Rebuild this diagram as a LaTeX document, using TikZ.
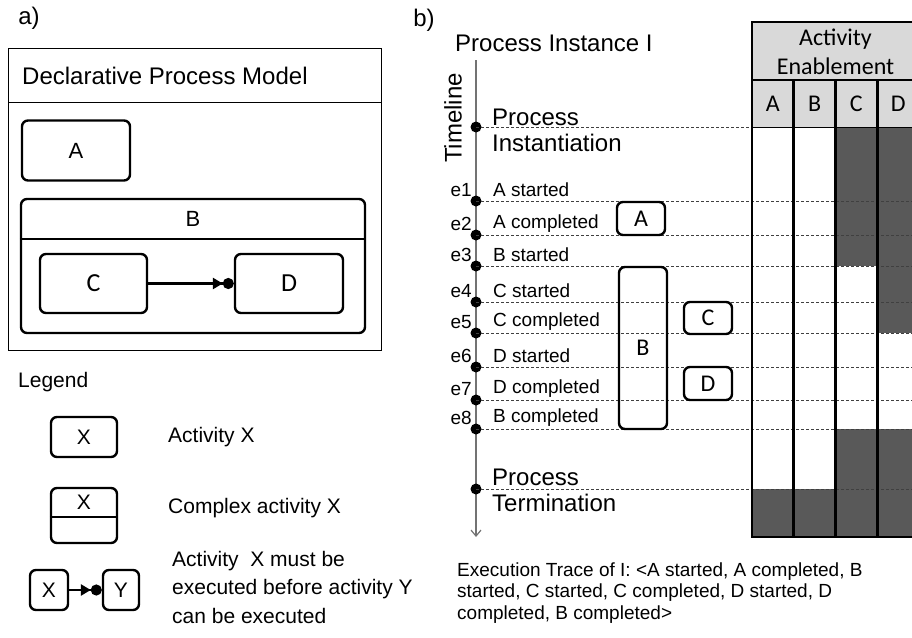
\documentclass[tikz,border=0pt]{standalone}
\usepackage{fontspec}
\setmainfont{Liberation Sans}
\newfontfamily\calibri{Carlito}
\usetikzlibrary{arrows.meta,positioning}
\definecolor{cellgray}{HTML}{D9D9D9}
\definecolor{celldark}{HTML}{595959}
\tikzset{
  act/.style={draw, line width=2.4pt, rounded corners=6pt, inner sep=0pt},
  big/.style={font=\fontsize{24}{26}\selectfont},
  mid/.style={font=\fontsize{21}{28.5}\selectfont},
  small/.style={font=\fontsize{19}{21.5}\selectfont},
  cal/.style={font=\calibri\fontsize{24}{28}\selectfont},
  txt/.style={inner sep=0pt, anchor=west},
  prec/.style={line width=2.6pt, -{Triangle[length=10pt,width=11pt]Circle[length=11pt]}},
  evline/.style={densely dashed, line width=0.7pt, black!75},
  evdot/.style={circle, fill=black, inner sep=0pt, minimum size=11pt},
}

\begin{document}
\begin{tikzpicture}[x=1pt,y=-1pt]
\useasboundingbox (0,0) rectangle (912,637);

\node (la) [big] at (29,18) {a)};
\node (model) [draw, line width=0.9pt, minimum width=373pt, minimum height=302pt, anchor=north west, inner sep=0pt] at (8,48) {};
\draw [line width=0.9pt] (model.west |- 0,102) -- (model.east |- 0,102);
\node (title) [big, txt] at (22,76) {Declarative Process Model};
\node (A) [act, mid, font=\fontsize{22}{26}\selectfont, minimum width=108pt, minimum height=60pt] at (76,150.5) {A};
\node (B) [act, minimum width=344pt, minimum height=134pt] at (193,266) {};
\draw [line width=2.4pt] (B.west |- 0,239) -- (B.east |- 0,239);
\node (Blbl) [mid, font=\fontsize{22}{26}\selectfont] at (193,219) {B};
\node (C) [act, cal, font=\calibri\fontsize{26}{30}\selectfont, minimum width=107pt, minimum height=59pt] at (93.5,283.5) {C};
\node (D) [act, cal, font=\calibri\fontsize{26}{30}\selectfont, minimum width=108pt, minimum height=59pt] at (289,283.5) {D};
\draw [prec] (C) -- (D);

\node (legend) [mid, txt] at (18,382) {Legend};
\node (lx) [act, mid, minimum width=66pt, minimum height=40pt] at (84,437) {X};
\node (lxt) [mid, txt] at (168,437) {Activity X};
\node (lcx) [act, minimum width=66pt, minimum height=55pt] at (84,515.5) {};
\draw [line width=2.4pt] (lcx.west |- 0,517) -- (lcx.east |- 0,517);
\node (lcxl) [mid] at (84,502) {X};
\node (lcxt) [mid, txt] at (168,508) {Complex activity X};
\node (lpx) [act, mid, minimum width=38pt, minimum height=40pt] at (49,590) {X};
\node (lpy) [act, mid, minimum width=36pt, minimum height=40pt] at (121,590) {Y};
\draw [prec] (lpx) -- (lpy);
\node (lpt) [mid, txt, align=left] at (172,587) {Activity~ X must be\\executed before activity Y\\can be executed};

\node (lb) [big] at (424,20) {b)};
\node (inst) [big, txt] at (455,43) {Process Instance I};
\node (tl) [big, rotate=90] at (453,118) {Timeline};
\coordinate (top) at (476,60);
\coordinate (bot) at (476,537);
\coordinate (tr) at (912,0);
\draw [black!55, line width=1.2pt, -{Straight Barb[length=6pt,width=10pt]}] (top) -- (bot);

\fill [cellgray] (752,22) rectangle (919,127);
\foreach \xa/\xb/\ya/\yb in {752/835.5/489/537, 835.5/919/429/537, 835.5/877.25/127/266, 877.25/919/127/333}
  \fill [celldark] (\xa,\ya) rectangle (\xb,\yb);
\node (enab) [font=\calibri\fontsize{24}{29}\selectfont, align=center] at (835.5,52) {Activity\\Enablement};
\foreach \c [count=\i] in {A,B,C,D}
  \node (h\c) [cal] at ({752+41.75*\i-20.875},104) {\c};

\node (p0) [evdot] at (476,127) {};
\draw [evline] (p0.center) -- (p0.center -| tr);
\node (p0t) [big, txt, align=left] at (492,130) {Process\\Instantiation};
\foreach \y/\e/\t in {201/e1/A started, 235/e2/A completed, 266/e3/B started, 302/e4/C started, 333/e5/C completed, 367/e6/D started, 400/e7/D completed, 429/e8/B completed} {
  \node (\e) [evdot] at (476,\y) {};
  \draw [evline] (\e.center) -- (\e.center -| tr);
  \node (\e t) [small, txt] at (493,\y-11) {\t};
  \node (\e l) [small, inner sep=0pt, anchor=east] at (472,\y-11) {\e};
}
\node (p9) [evdot] at (476,489) {};
\draw [evline] (p9.center) -- (p9.center -| tr);
\node (p9t) [big, txt, align=left] at (492,490) {Process\\Termination};

\draw [line width=2.6pt] (919,22) -- (752,22) -- (752,537) -- (919,537);
\draw [line width=2.6pt] (752,80) -- (919,80);
\draw [line width=1pt] (752,127) -- (919,127);
\foreach \x in {793.75,835.5,877.25}
  \draw [line width=2.6pt] (\x,80) -- (\x,537);

\node (bA) [act, cal, minimum width=48pt, minimum height=33pt] at (641,218.5) {A};
\node (bB) [act, cal, minimum width=48pt, minimum height=162pt] at (643,348) {B};
\node (bC) [act, cal, minimum width=48pt, minimum height=32pt] at (708,318) {C};
\node (bD) [act, cal, minimum width=48pt, minimum height=33pt] at (708,383.5) {D};

\node (trace) [small, txt, align=left] at (457,593) {Execution Trace of I: <A started, A completed, B\\started, C started, C completed, D started, D\\completed, B completed>};
\end{tikzpicture}
\end{document}
